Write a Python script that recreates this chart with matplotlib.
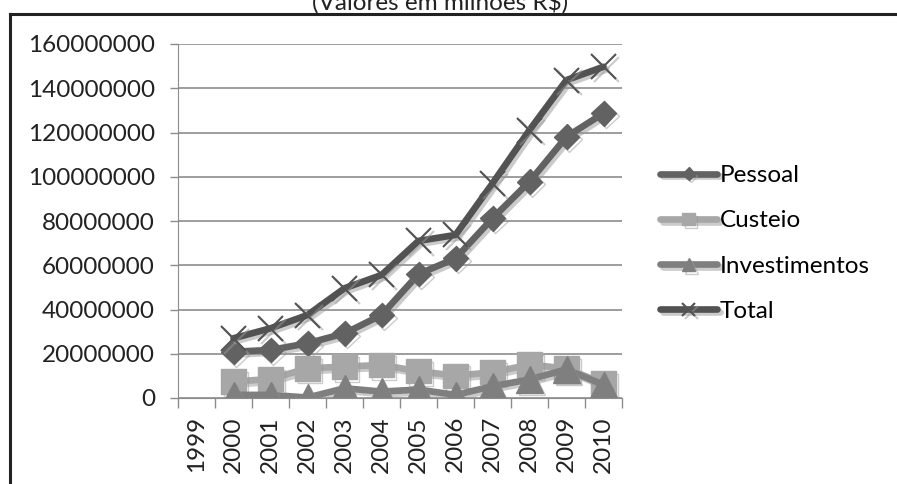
import matplotlib
matplotlib.use("Agg")
import matplotlib.pyplot as plt
import matplotlib.patheffects as pe
from matplotlib.lines import Line2D
import numpy as np

# anos (1999 fica sem dados)
anos = ["1999", "2000", "2001", "2002", "2003", "2004", "2005",
        "2006", "2007", "2008", "2009", "2010"]
pessoal = [np.nan, 20900000, 21700000, 24700000, 29200000, 37500000, 56000000,
           63100000, 81200000, 97800000, 118100000, 128700000]
custeio = [np.nan, 7400000, 8600000, 13400000, 14200000, 14900000, 12100000,
           10100000, 11600000, 15100000, 13300000, 6600000]
investimentos = [np.nan, 1400000, 1400000, 200000, 4400000, 2900000, 3800000,
                 1400000, 5300000, 8400000, 12900000, 6000000]
total = [np.nan, 27000000, 31500000, 37500000, 49600000, 55600000, 71000000,
         73700000, 97000000, 121100000, 143700000, 149700000]

plt.rcParams['font.family'] = ['Lato', 'DejaVu Sans']
fs = 17.5

fig = plt.figure(figsize=(8.97, 4.84), dpi=100)
ax = fig.add_axes([178/897, 1-398/484, (622-178)/897, (398-44)/484])

x = np.arange(len(anos))
sombra = [pe.SimpleLineShadow(offset=(2, -2), shadow_color='#999999', alpha=0.5), pe.Normal()]

ax.plot(x, pessoal, color='#626262', lw=4.8, marker='D', ms=12.5, mec='#626262',
        solid_capstyle='round', label='Pessoal', path_effects=sombra)
ax.plot(x, custeio, color='#a7a7a7', lw=4.8, marker='s', ms=17.5, mec='#a7a7a7',
        solid_capstyle='round', label='Custeio', path_effects=sombra)
ax.plot(x, investimentos, color='#7f7f7f', lw=4.8, marker='^', ms=19, mec='#7f7f7f',
        solid_capstyle='round', label='Investimentos', path_effects=sombra)
ax.plot(x, total, color='#525252', lw=4.8, marker='x', ms=18, mew=1.5, mec='#525252',
        solid_capstyle='round', label='Total', path_effects=sombra)

ax.set_xlim(-0.5, len(anos) - 0.5)
ax.set_ylim(0, 160000000)
ax.set_yticks(np.arange(0, 160000001, 20000000))
ax.set_yticklabels([str(v) for v in range(0, 160000001, 20000000)], fontsize=fs, color='#222222')
ax.set_xticks(x)
ax.set_xticklabels(anos, rotation=90, fontsize=fs, color='#222222')
ax.set_xticks(np.arange(-0.5, len(anos), 1), minor=True)
ax.tick_params(axis='x', which='major', length=0, pad=13)
ax.tick_params(axis='x', which='minor', length=7, width=1, color='#8c8c8c', direction='out')
ax.tick_params(axis='y', length=6, width=1, color='#8c8c8c', pad=10.5)

ax.grid(axis='y', color='#8c8c8c', lw=1.2)
ax.set_axisbelow(True)
for s in ['top', 'right']:
    ax.spines[s].set_visible(False)
ax.spines['left'].set_color('#8c8c8c')
ax.spines['bottom'].set_color('#8c8c8c')

fig.legend(loc='center left', bbox_to_anchor=(660/897, 1-243.5/484), frameon=False,
           fontsize=fs, handlelength=2.35, handletextpad=0.1, labelspacing=1.0,
           borderpad=0, borderaxespad=0, numpoints=1, markerscale=0.5)

fig.text(440/897, 1-10/484, "(Valores em milhões R$)", ha='center', va='baseline',
         fontsize=fs, color='#222222')

# moldura
fig.add_artist(Line2D([10/897, 10/897], [0, 1-14/484], color='#222222', lw=2.2))
fig.add_artist(Line2D([10/897, 1], [1-14/484, 1-14/484], color='#222222', lw=2.2))

fig.savefig("out.png", dpi=100)
